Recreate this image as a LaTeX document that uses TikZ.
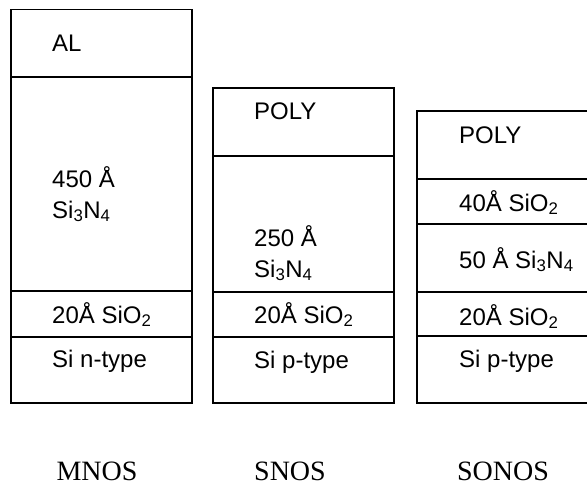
\documentclass[tikz,border=0pt]{standalone}
\usepackage{fontspec}
\setmainfont{Liberation Serif}
\newfontfamily\arialfont{Liberation Sans}
\usetikzlibrary{positioning}

\begin{document}
\begin{tikzpicture}[x=1pt, y=-1pt,
    layer/.style={draw, rectangle, minimum width=181pt, inner sep=0pt, outer sep=0pt, line width=1.5pt},
    txt/.style={anchor=base west, inner sep=0pt, align=left, font=\arialfont\fontsize{24}{31}\selectfont},
    devlabel/.style={anchor=base, inner sep=0pt, font=\fontsize{28}{32}\selectfont}]
    \useasboundingbox (0,0) rectangle (587,487);
    \node[layer, anchor=north west, minimum height=67.5pt] (mnosal) at (11,9.5) {};
    \node[layer, minimum height=214pt, below=0pt of mnosal] (mnosnit) {};
    \node[layer, minimum height=46pt, below=0pt of mnosnit] (mnosox) {};
    \node[layer, minimum height=66pt, below=0pt of mnosox] (mnossi) {};
    \node[layer, anchor=north west, minimum height=68pt] (snospoly) at (213,88) {};
    \node[layer, minimum height=136pt, below=0pt of snospoly] (snosnit) {};
    \node[layer, minimum height=45pt, below=0pt of snosnit] (snosox) {};
    \node[layer, minimum height=66pt, below=0pt of snosox] (snossi) {};
    \node[layer, anchor=north west, minimum height=68pt] (sonospoly) at (417,111) {};
    \node[layer, minimum height=45pt, below=0pt of sonospoly] (sonostop) {};
    \node[layer, minimum height=68pt, below=0pt of sonostop] (sonosnit) {};
    \node[layer, minimum height=44pt, below=0pt of sonosnit] (sonosox) {};
    \node[layer, minimum height=67pt, below=0pt of sonosox] (sonossi) {};
    \node[txt] (altxt) at (52,52) {AL};
    \node[txt] (mnosnittxt) at (52,218) {450 Å\\Si\textsubscript{3}N\textsubscript{4}};
    \node[txt] (mnosoxtxt) at (52,323) {20Å SiO\textsubscript{2}};
    \node[txt] (mnossitxt) at (52,367) {Si n-type};
    \node[txt] (snospolytxt) at (254,120) {POLY};
    \node[txt] (snosnittxt) at (254,277) {250 Å\\Si\textsubscript{3}N\textsubscript{4}};
    \node[txt] (snosoxtxt) at (254,323) {20Å SiO\textsubscript{2}};
    \node[txt] (snossitxt) at (254,368) {Si p-type};
    \node[txt] (sonospolytxt) at (459,143) {POLY};
    \node[txt] (sonostoptxt) at (459,211) {40Å SiO\textsubscript{2}};
    \node[txt] (sonosnittxt) at (459,268) {50 Å Si\textsubscript{3}N\textsubscript{4}};
    \node[txt] (sonosoxtxt) at (459,325) {20Å SiO\textsubscript{2}};
    \node[txt] (sonossitxt) at (459,367) {Si p-type};
    \node[devlabel] (mnos) at (97,480) {MNOS};
    \node[devlabel] (snos) at (290,480) {SNOS};
    \node[devlabel] (sonos) at (503,480) {SONOS};
\end{tikzpicture}
\end{document}
